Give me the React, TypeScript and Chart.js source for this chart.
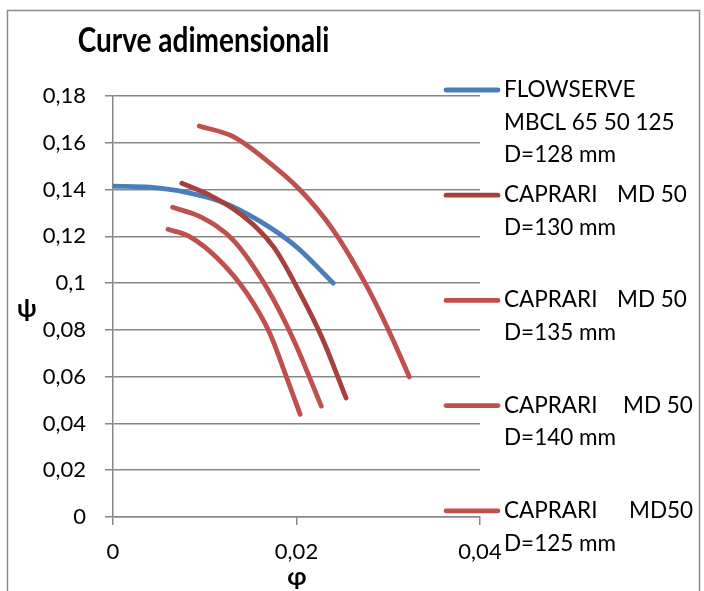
import React, { useEffect, useRef } from "react";
import { Chart, registerables } from "chart.js";

Chart.register(...registerables);

// ---- data ----
const seriesNames: string[][] = [
  ["FLOWSERVE", "MBCL 65 50 125", "D=128 mm"],
  ["CAPRARI   MD 50", "D=130 mm"],
  ["CAPRARI   MD 50", "D=135 mm"],
  ["CAPRARI    MD 50", "D=140 mm"],
  ["CAPRARI    MD50", "D=125 mm"],
];

const flowX = [0, 0.004, 0.008, 0.012, 0.016, 0.02, 0.024];
const flowY = [0.1415, 0.141, 0.1388, 0.1345, 0.1265, 0.1155, 0.1];

const d130X = [0.0075, 0.0105, 0.0138, 0.0175, 0.0204, 0.0229, 0.0254];
const d130Y = [0.1427, 0.1377, 0.1298, 0.1155, 0.0956, 0.0756, 0.0509];

const d135X = [0.0065, 0.0095, 0.0131, 0.0167, 0.0197, 0.0227];
const d135Y = [0.1324, 0.1284, 0.1184, 0.0984, 0.0756, 0.0474];

const d140X = [0.0094, 0.0131, 0.0167, 0.0204, 0.024, 0.0277, 0.0302, 0.0323];
const d140Y = [0.1672, 0.1626, 0.1526, 0.1398, 0.1227, 0.0984, 0.0785, 0.0599];

const d125X = [0.006, 0.0084, 0.0116, 0.0146, 0.0171, 0.0189, 0.0204];
const d125Y = [0.123, 0.1198, 0.1098, 0.0956, 0.0785, 0.0599, 0.0439];

const xTickLabels = ["0", "0,02", "0,04"];
const yTickLabels = ["0", "0,02", "0,04", "0,06", "0,08", "0,1", "0,12", "0,14", "0,16", "0,18"];

const titleText = "Curve adimensionali";
const xTitle = "φ";
const yTitle = "ψ";

const colors = ["#4A7EBB", "#A5403D", "#C0504D", "#C0504D", "#C0504D"];

const FONT = "Lato, 'Open Sans', sans-serif";
const GRID = "#878787";

const toPts = (xs: number[], ys: number[]) => xs.map((x, i) => ({ x, y: ys[i] }));

export default function App() {
  const ref = useRef<HTMLCanvasElement | null>(null);

  useEffect(() => {
    document.body.style.margin = "0";
    document.body.style.overflow = "hidden";
    const canvas = ref.current!;
    const all = [
      toPts(flowX, flowY),
      toPts(d130X, d130Y),
      toPts(d135X, d135Y),
      toPts(d140X, d140Y),
      toPts(d125X, d125Y),
    ];
    const datasets = all.map((data, i) => ({
      label: seriesNames[i].join(" "),
      data,
      showLine: true,
      borderColor: colors[i],
      backgroundColor: colors[i],
      borderWidth: 4.8,
      borderCapStyle: "round" as const,
      pointRadius: 0,
      cubicInterpolationMode: "monotone" as const,
      order: 4 - i,
    }));

    const decor = {
      id: "decor",
      afterDraw(chart: any) {
        const ctx = chart.ctx as CanvasRenderingContext2D;
        ctx.save();
        // outer border
        ctx.strokeStyle = "#8a8a8a";
        ctx.lineWidth = 1.5;
        ctx.strokeRect(7.5, 10.5, 692, 600);
        // title
        ctx.fillStyle = "#000";
        ctx.font = `bold 28px ${FONT}`;
        ctx.textAlign = "center";
        ctx.textBaseline = "alphabetic";
        ctx.save();
        ctx.translate(203.5, 52);
        ctx.scale(1, 1.22);
        ctx.fillText(titleText, 0, 0);
        ctx.restore();
        // axis titles
        ctx.font = `bold 25px ${FONT}`;
        ctx.textBaseline = "middle";
        ctx.fillText(yTitle, 27, 309);
        ctx.fillText(xTitle, 297, 577);
        // legend
        ctx.textAlign = "left";
        ctx.textBaseline = "alphabetic";
        ctx.font = `22.5px ${FONT}`;
        const secondX = [0, 617, 617, 623, 629];
        seriesNames.forEach((lines, i) => {
          const ly = 90 + i * 105.2;
          ctx.strokeStyle = colors[i];
          ctx.lineWidth = 4.8;
          ctx.lineCap = "round";
          ctx.beginPath();
          ctx.moveTo(446, ly);
          ctx.lineTo(498, ly);
          ctx.stroke();
          ctx.fillStyle = "#000";
          lines.forEach((line, j) => {
            const by = ly + 7 + j * 32.7;
            const parts = line.split(/\s{2,}/);
            ctx.fillText(parts[0], 504, by);
            if (parts.length > 1) ctx.fillText(parts[1], secondX[i], by);
          });
        });
        ctx.restore();
      },
    };

    const tickFont = { family: FONT, size: 22 };
    const chart = new Chart(canvas, {
      type: "scatter",
      data: { datasets },
      options: {
        animation: false,
        responsive: false,
        maintainAspectRatio: false,
        layout: { padding: { left: 0, top: 96, right: 224, bottom: 0 } },
        plugins: {
          legend: { display: false },
          title: { display: false },
          tooltip: { enabled: false },
        },
        scales: {
          x: {
            type: "linear",
            min: 0,
            max: 0.04,
            ticks: {
              stepSize: 0.02,
              color: "#000",
              font: tickFont,
              padding: 14,
              maxRotation: 0,
              callback: (_v: any, i: number) => xTickLabels[i] ?? "",
            },
            grid: { drawOnChartArea: false, drawTicks: true, tickLength: 8, color: GRID, lineWidth: 1.5 },
            border: { color: GRID, width: 1.5 },
            afterFit: (s: any) => {
              s.height = 74;
            },
          },
          y: {
            type: "linear",
            min: 0,
            max: 0.18,
            ticks: {
              stepSize: 0.02,
              color: "#000",
              font: tickFont,
              padding: 19,
              callback: (_v: any, i: number) => yTickLabels[i] ?? "",
            },
            grid: { color: GRID, lineWidth: 1.5, tickLength: 8 },
            border: { color: GRID, width: 1.5 },
            afterFit: (s: any) => {
              s.width = 113;
            },
          },
        },
      },
      plugins: [decor],
    } as any);
    return () => chart.destroy();
  }, []);

  return (
    <canvas
      ref={ref}
      width={704}
      height={591}
      style={{ display: "block", width: 704, height: 591 }}
    />
  );
}
